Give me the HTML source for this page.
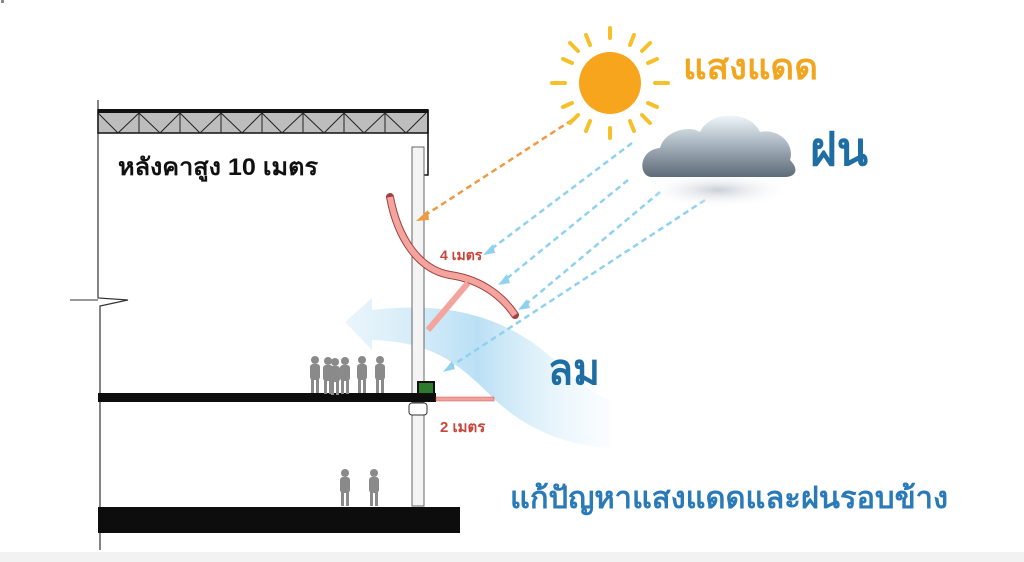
<!DOCTYPE html>
<html><head><meta charset="utf-8"><style>
html,body{margin:0;padding:0;background:#fff;width:1024px;height:562px;overflow:hidden}
svg{display:block}
svg text{font-family:"Liberation Sans","Noto Sans CJK SC",sans-serif;font-weight:bold}
</style></head><body>
<svg width="1024" height="562" viewBox="0 0 1024 562" xmlns="http://www.w3.org/2000/svg">
<defs>
<linearGradient id="cl" x1="0" y1="0" x2="0" y2="1">
<stop offset="0" stop-color="#eef6fa"/><stop offset="0.45" stop-color="#aab6c0"/><stop offset="1" stop-color="#5d6b78"/></linearGradient>
<linearGradient id="wind" x1="0" y1="0" x2="1" y2="0">
<stop offset="0" stop-color="#d6ecf8" stop-opacity="0.5"/><stop offset="0.5" stop-color="#a9d8f2" stop-opacity="0.8"/><stop offset="1" stop-color="#e6f4fb" stop-opacity="0.2"/></linearGradient>
<radialGradient id="sh" cx="0.5" cy="0.5" r="0.5"><stop offset="0" stop-color="#c9cfd8"/><stop offset="1" stop-color="#fff" stop-opacity="0"/></radialGradient>
</defs>
<rect x="0" y="552" width="1024" height="10" fill="#f2f2f2"/>
<path d="M345 322 L372 298 L372 310 C470 298 525 330 565 370 C590 393 610 400 610 400 L610 448 C560 445 520 425 490 395 C455 360 430 342 372 340 L372 350 Z" fill="url(#wind)"/>
<path d="M98 100 V298 L128 300 L100 306 V550" stroke="#333" stroke-width="1.2" fill="none"/>
<path d="M70 300 L98 300" stroke="#333" stroke-width="1"/>
<rect x="98" y="110" width="330" height="23" fill="#bdbdbd" stroke="#111" stroke-width="1.5"/>
<rect x="98" y="109" width="330" height="4" fill="#111"/>
<g stroke="#222" stroke-width="1" fill="none">
<path d="M98 113 L118 133 L139 113 L160 133 L180 113 L200 133 L221 113 L242 133 L262 113 L282 133 L303 113 L324 133 L344 113 L364 133 L385 113 L406 133 L426 113"/>
<path d="M139 113V133M180 113V133M221 113V133M262 113V133M303 113V133M344 113V133M385 113V133"/>
</g>
<path d="M428 110 V175 H423" stroke="#111" stroke-width="1.5" fill="none"/>
<rect x="412" y="147" width="12" height="248" fill="#f4f4f4" stroke="#666" stroke-width="1"/>
<rect x="412" y="402" width="12" height="104" fill="#f4f4f4" stroke="#666" stroke-width="1"/>
<rect x="409" y="403" width="18" height="12" rx="3" fill="#fff" stroke="#333"/>
<rect x="98" y="393" width="338" height="9" fill="#0d0d0d"/>
<rect x="418" y="382" width="16" height="12" fill="#2d7a2d" stroke="#111" stroke-width="2"/>
<rect x="436" y="397" width="58" height="4" fill="#f2a29b" stroke="#c55" stroke-width="0.5"/>
<rect x="98" y="507" width="362" height="26" fill="#0d0d0d"/>
<path d="M390 197 C398 240 420 270 450 275 C485 280 505 300 515 315" stroke="#a04040" stroke-width="8" fill="none" stroke-linecap="round"/>
<path d="M390 197 C398 240 420 270 450 275 C485 280 505 300 515 315" stroke="#f3a59d" stroke-width="6" fill="none"/>
<path d="M428 330 L468 283" stroke="#f3a59d" stroke-width="6"/>
<g fill="none" stroke-dasharray="6,4" stroke-width="2.5">
<path d="M572 120 L424 216" stroke="#ee9a45"/>
<path d="M632 143 L490 250" stroke="#8fd1ef"/>
<path d="M628 180 L505 280" stroke="#8fd1ef"/>
<path d="M660 192 L525 305" stroke="#8fd1ef"/>
<path d="M705 200 L450 367" stroke="#8fd1ef"/>
</g>
<g fill="#ee9a45"><path d="M416 221 L428 210 L429 220 Z"/></g>
<g fill="#8fd1ef"><path d="M483 255 L493 244 L495 253 Z"/><path d="M498 285 L507 274 L510 283Z"/><path d="M518 310 L527 299 L530 308Z"/><path d="M443 372 L452 361 L455 369Z"/></g>
<g fill="#8a8a8a">
<g id="p"><circle cx="0" cy="-30" r="4"/><rect x="-5" y="-26" width="10" height="16" rx="3"/><rect x="-4" y="-11" width="3" height="14"/><rect x="1" y="-11" width="3" height="14"/></g>
<use href="#p" x="315" y="390"/><use href="#p" x="328" y="391"/><use href="#p" x="335" y="392"/><use href="#p" x="345" y="391"/><use href="#p" x="362" y="390"/><use href="#p" x="380" y="390"/>
<use href="#p" x="345" y="503"/><use href="#p" x="374" y="503"/>
</g>
<g stroke="#f6c02a" stroke-width="4" stroke-linecap="round">
<path d="M610 38V28M610 128V138M565 83H552M655 83H668M578 51L570 43M642 115L650 123M642 51L650 43M578 115L570 123M590 45L586 35M630 121L634 131M630 45L634 35M590 121L586 131M572 63L563 59M648 103L657 107M648 63L657 59M572 103L563 107"/>
</g>
<circle cx="610" cy="83" r="31" fill="#f7a51c"/>
<ellipse cx="718" cy="190" rx="75" ry="18" fill="url(#sh)"/>
<path d="M652 177 C638 177 638 150 660 148 C665 130 690 125 700 132 C710 110 750 110 760 132 C780 128 795 145 790 160 C800 170 795 177 785 177 Z" fill="url(#cl)"/>
<text x="683" y="79" font-size="36" fill="#f2a51e" textLength="135" lengthAdjust="spacingAndGlyphs">แสงแดด</text>
<text x="810" y="165" font-size="46" fill="#1f6ea3" textLength="58" lengthAdjust="spacingAndGlyphs">ฝน</text>
<text x="548" y="384" font-size="42" fill="#1f6ea3" textLength="52" lengthAdjust="spacingAndGlyphs">ลม</text>
<text x="510" y="508" font-size="30" fill="#2a7ab8" font-weight="normal" textLength="438" lengthAdjust="spacingAndGlyphs">แก้ปัญหาแสงแดดและฝนรอบข้าง</text>
<text x="118" y="175" font-size="24" fill="#111" textLength="200" lengthAdjust="spacingAndGlyphs">หลังคาสูง 10 เมตร</text>
<text x="440" y="260" font-size="14" fill="#c9453a">4 เมตร</text>
<text x="440" y="432" font-size="15" fill="#c9453a">2 เมตร</text>
</svg>
</body></html>
